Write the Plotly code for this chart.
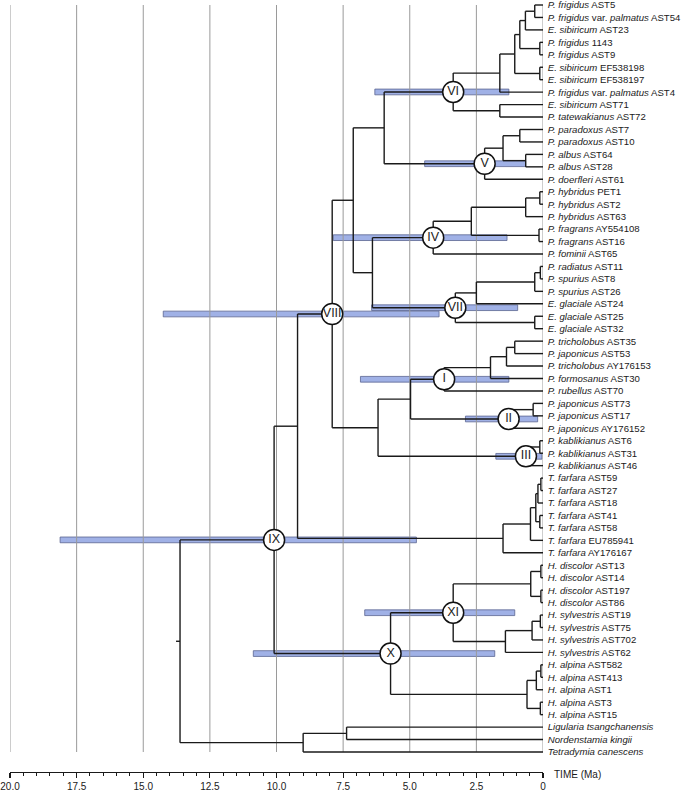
import plotly.graph_objects as go

# ---------------- data ----------------
leaf_taxa = [
    "P. frigidus", "P. frigidus var. palmatus", "E. sibiricum", "P. frigidus", "P. frigidus",
    "E. sibiricum", "E. sibiricum", "P. frigidus var. palmatus", "E. sibiricum", "P. tatewakianus",
    "P. paradoxus", "P. paradoxus", "P. albus", "P. albus", "P. doerfleri",
    "P. hybridus", "P. hybridus", "P. hybridus", "P. fragrans", "P. fragrans", "P. fominii",
    "P. radiatus", "P. spurius", "P. spurius", "E. glaciale", "E. glaciale", "E. glaciale",
    "P. tricholobus", "P. japonicus", "P. tricholobus", "P. formosanus", "P. rubellus",
    "P. japonicus", "P. japonicus", "P. japonicus",
    "P. kablikianus", "P. kablikianus", "P. kablikianus",
    "T. farfara", "T. farfara", "T. farfara", "T. farfara", "T. farfara", "T. farfara", "T. farfara",
    "H. discolor", "H. discolor", "H. discolor", "H. discolor",
    "H. sylvestris", "H. sylvestris", "H. sylvestris", "H. sylvestris",
    "H. alpina", "H. alpina", "H. alpina", "H. alpina", "H. alpina",
    "Ligularia tsangchanensis", "Nordenstamia kingii", "Tetradymia canescens",
]
leaf_ids = [
    "AST5", "AST54", "AST23", "1143", "AST9", "EF538198", "EF538197", "AST4", "AST71", "AST72",
    "AST7", "AST10", "AST64", "AST28", "AST61",
    "PET1", "AST2", "AST63", "AY554108", "AST16", "AST65",
    "AST11", "AST8", "AST26", "AST24", "AST25", "AST32",
    "AST35", "AST53", "AY176153", "AST30", "AST70",
    "AST73", "AST17", "AY176152",
    "AST6", "AST31", "AST46",
    "AST59", "AST27", "AST18", "AST41", "AST58", "EU785941", "AY176167",
    "AST13", "AST14", "AST197", "AST86",
    "AST19", "AST75", "AST702", "AST62",
    "AST582", "AST413", "AST1", "AST3", "AST15",
    "", "", "",
]

# internal nodes (children: int = leaf index, str = internal node), ages in Ma
node_names = ["a1", "a2", "a3", "a4", "a5", "a6", "a7", "a8", "VI",
              "b1", "b2", "b3", "V", "c1",
              "d1", "d2", "d3", "d4", "IV",
              "e1", "e2", "e3", "e4", "VII", "c2", "c3",
              "f1", "f2", "f3", "I", "g1", "II", "f4", "h1", "III", "f5", "VIII",
              "t1", "t2", "t3", "t4", "t5", "t6", "j1",
              "k1", "k2", "k3", "m1", "m2", "m3", "XI",
              "p1", "p2", "p3", "p4", "X", "IX",
              "o1", "o2", "root"]
node_child_a = [0, "a1", 3, "a2", 5, "a4", "a6", 8, "a7",
                10, 12, "b1", "b3", "VI",
                15, "d1", 18, "d2", "d4",
                21, "e1", "e2", 25, "e3", "IV", "c1",
                27, "f1", "f2", "f3", 32, "g1", "I", 35, "h1", "f4", "c3",
                38, "t1", 41, "t2", "t4", "t5", "VIII",
                45, 47, "k1", 49, "m1", "m2", "k3",
                53, "p1", 56, "p2", "XI", "j1",
                58, "o1", "IX"]
node_child_b = [1, 2, 4, "a3", 6, "a5", 7, 9, "a8",
                11, 13, "b2", 14, "V",
                16, 17, 19, "d3", 20,
                22, 23, 24, 26, "e4", "VII", "c2",
                28, 29, 30, 31, 33, 34, "II", 36, 37, "III", "f5",
                39, 40, 42, "t3", 43, 44, "t6",
                46, 48, "k2", 50, 51, 52, "m3",
                54, 55, 57, "p3", "p4", "X",
                59, 60, "o2"]
node_ages = [0.31, 0.66, 0.12, 0.87, 0.12, 1.06, 1.62, 1.62, 3.37,
             0.87, 0.65, 1.50, 2.19, 5.96,
             0.12, 0.65, 0.15, 2.69, 4.12,
             0.10, 0.31, 2.50, 0.31, 3.29, 6.40, 7.12,
             1.06, 1.37, 1.97, 3.71, 0.37, 1.29, 4.97, 0.12, 0.64, 6.19, 7.91,
             0.08, 0.19, 0.12, 0.27, 0.47, 1.50, 9.21,
             0.08, 0.08, 0.46, 0.10, 0.41, 1.41, 3.37,
             0.08, 0.25, 0.10, 0.60, 5.72, 10.09,
             7.37, 9.00, 13.62]
root_stem_age = 13.77

# labelled nodes with age intervals (Ma)
hpd_nodes = ["I", "II", "III", "IV", "V", "VI", "VII", "VIII", "IX", "X", "XI"]
hpd_young = [1.28, 0.20, 0.04, 1.35, 0.65, 1.28, 0.95, 3.90, 4.75, 1.81, 1.06]
hpd_old = [6.85, 2.91, 1.77, 7.87, 4.44, 6.31, 6.43, 14.25, 18.12, 10.87, 6.69]

tick_vals = [20, 17.5, 15, 12.5, 10, 7.5, 5, 2.5, 0]
tick_text = ["20.0", "17.5", "15.0", "12.5", "10.0", "7.5", "5.0", "2.5", "0"]
minor_vals = [v / 2 for v in range(0, 41)]

# ---------------- layout of tree ----------------
node_y, node_age = {}, {}


def ypos(ref):
    return float(ref) if isinstance(ref, int) else node_y[ref]


def xage(ref):
    return 0.0 if isinstance(ref, int) else node_age[ref]


for name, a, b, age in zip(node_names, node_child_a, node_child_b, node_ages):
    node_y[name] = (ypos(a) + ypos(b)) / 2
    node_age[name] = age

bx, by = [], []
for name, a, b, age in zip(node_names, node_child_a, node_child_b, node_ages):
    bx += [age, age, None]
    by += [ypos(a), ypos(b), None]
    for c in (a, b):
        bx += [age, xage(c), None]
        by += [ypos(c), ypos(c), None]
bx += [root_stem_age, node_age["root"], None]
by += [node_y["root"], node_y["root"], None]

n_leaves = len(leaf_taxa)
gx, gy = [], []
for v in tick_vals:
    gx += [v, v, None]
    gy += [0, n_leaves - 1, None]


def label_html(taxon, ident):
    t = "<i>" + taxon.replace(" var. ", "</i> var. <i>") + "</i>"
    return t + (" " + ident if ident else "")


labels = [label_html(t, i) for t, i in zip(leaf_taxa, leaf_ids)]

FONT = "Liberation Sans, Arial, sans-serif"
y_px0, y_px_last = 5.0, 752.0
y_step = (y_px_last - y_px0) / (n_leaves - 1)
plot_h = 772
label_nudge = 1.0 / y_step  # one pixel lower, to centre text on its branch

fig = go.Figure()
fig.add_trace(go.Scatter(x=gx, y=gy, mode="lines",
                         line=dict(color="#9a9a9a", width=1), hoverinfo="skip"))
fig.add_trace(go.Bar(orientation="h",
                     y=[node_y[n] for n in hpd_nodes],
                     base=hpd_young,
                     x=[o - y for o, y in zip(hpd_old, hpd_young)],
                     width=0.46,
                     marker=dict(color="rgb(160,177,230)",
                                 line=dict(color="rgb(90,100,145)", width=0.8)),
                     hoverinfo="skip"))
fig.add_trace(go.Scatter(x=bx, y=by, mode="lines",
                         line=dict(color="#1a1a1a", width=1.4), hoverinfo="skip"))
fig.add_trace(go.Scatter(x=[0] * n_leaves, y=[i + label_nudge for i in range(n_leaves)],
                         mode="markers+text", text=labels,
                         textposition="middle right", cliponaxis=False,
                         marker=dict(size=6, color="rgba(0,0,0,0)"),
                         textfont=dict(family=FONT, size=9.6, color="#1a1a1a"),
                         hoverinfo="skip"))
fig.add_trace(go.Scatter(x=[node_age[n] for n in hpd_nodes],
                         y=[node_y[n] for n in hpd_nodes],
                         mode="markers+text", text=hpd_nodes,
                         textposition="middle center", cliponaxis=False,
                         marker=dict(size=21, color="white",
                                     line=dict(color="#111111", width=1.5)),
                         textfont=dict(family=FONT, size=12.5, color="#222222"),
                         hoverinfo="skip"))

fig.add_annotation(x=0, xref="x", y=0, yref="paper", text="TIME (Ma)",
                   xanchor="left", yanchor="middle", xshift=9, yshift=-2,
                   showarrow=False, font=dict(family=FONT, size=10, color="#1a1a1a"))

fig.update_layout(
    template="none",
    width=685, height=792,
    margin=dict(l=10, r=142, t=0, b=20, pad=0),
    showlegend=False,
    hovermode=False,
    plot_bgcolor="white", paper_bgcolor="white",
    xaxis=dict(range=[20, 0], showgrid=False, zeroline=False, automargin=False,
               showline=True, linecolor="#1a1a1a", linewidth=1.2,
               ticks="outside", ticklen=5, tickwidth=1.2, tickcolor="#1a1a1a",
               tickmode="array", tickvals=tick_vals, ticktext=tick_text,
               tickfont=dict(family=FONT, size=10, color="#1a1a1a"),
               minor=dict(tickmode="array", tickvals=minor_vals, ticks="outside",
                          ticklen=2.5, tickwidth=1, tickcolor="#1a1a1a", showgrid=False)),
    yaxis=dict(range=[(plot_h - y_px0) / y_step, -y_px0 / y_step], visible=False,
               automargin=False, showgrid=False, zeroline=False),
)

fig.write_html("out.html",
               config={"displayModeBar": False, "staticPlot": True},
               post_script="document.body.style.margin='0';document.body.style.overflow='hidden';")
